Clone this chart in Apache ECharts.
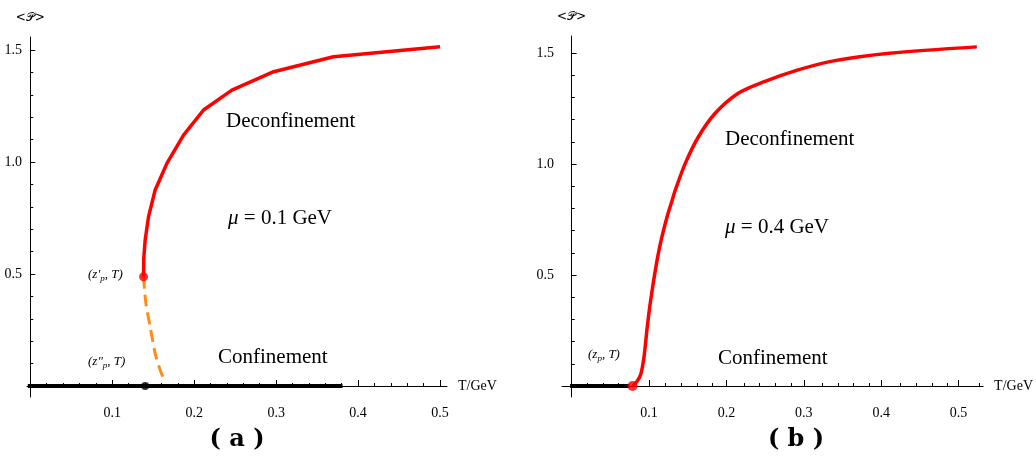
<!DOCTYPE html>
<html>
<head>
<meta charset="utf-8">
<script src="https://cdn.jsdelivr.net/npm/echarts@6.0.0/dist/echarts.min.js"></script>
<style>
html,body{margin:0;padding:0;background:#fff;}
#chart{width:1036px;height:461px;}
</style>
</head>
<body>
<div id="chart"></div>
<script>
// ---------- data ----------
// Panel (a): mu = 0.1 GeV
const aStableT   = [0.1382, 0.1385, 0.1402, 0.1443, 0.1524, 0.1667, 0.1870, 0.2114, 0.2460, 0.2970, 0.3700, 0.5000];
const aStableP   = [0.488, 0.570, 0.652, 0.756, 0.875, 0.994, 1.120, 1.232, 1.321, 1.403, 1.470, 1.515];
const aUnstableT = [0.1382, 0.1411, 0.1463, 0.1524, 0.1585, 0.1626];
const aUnstableP = [0.488, 0.369, 0.265, 0.146, 0.071, 0.034];
const aConfinedT = [-0.003, 0.381];
const aConfinedP = [0, 0];
const aUpperPoint = [0.1382, 0.488];   // (z'_p, T)
const aLowerPoint = [0.1402, 0];       // (z''_p, T)

// Panel (b): mu = 0.4 GeV
const bStableT   = [0.0787, 0.0840, 0.0894, 0.0936, 0.0978, 0.1022, 0.1086, 0.1149, 0.1234, 0.1298, 0.1340, 0.1469, 0.1639, 0.1852, 0.2149, 0.2490, 0.2916, 0.3384, 0.4107, 0.5236];
const bStableP   = [0, 0.018, 0.053, 0.132, 0.267, 0.387, 0.530, 0.645, 0.763, 0.835, 0.883, 1.003, 1.123, 1.228, 1.318, 1.371, 1.423, 1.465, 1.499, 1.528];
const bConfinedT = [-0.002, 0.075];
const bConfinedP = [0, 0];
const bPoint     = [0.0787, 0];        // (z_p, T)

// tick labels
const aXMajor = [0.1, 0.2, 0.3, 0.4, 0.5];
const aXMinor = [0.02,0.04,0.06,0.08,0.12,0.14,0.16,0.18,0.22,0.24,0.26,0.28,0.32,0.34,0.36,0.38,0.42,0.44,0.46,0.48];
const bXMajor = [0.1, 0.2, 0.3, 0.4, 0.5];
const bXMinor = [0.02,0.04,0.06,0.08,0.12,0.14,0.16,0.18,0.22,0.24,0.26,0.28,0.32,0.34,0.36,0.38,0.42,0.44,0.46,0.48,0.52];
const yMajor  = [0.5, 1.0, 1.5];
const yMinor  = [0.1,0.2,0.3,0.4,0.6,0.7,0.8,0.9,1.1,1.2,1.3,1.4];

const xName = 'T/GeV';
const yName = '<\u{1D4AB}>';

// ---------- helpers ----------
const zip = (xs, ys) => xs.map((x, i) => [x, ys[i]]);
const SERIF = "'Liberation Serif', 'DejaVu Serif', serif";

function mainX(grid, min, max, major) {
  return {
    gridIndex: grid, type: 'value', min: min, max: max,
    name: xName, nameLocation: 'end', nameGap: 11,
    nameTextStyle: {fontFamily: SERIF, fontSize: 14, color: '#000', verticalAlign: 'middle'},
    axisLine: {show: true, onZero: true, lineStyle: {color: '#000', width: 1}},
    axisTick: {show: true, inside: true, length: 6, customValues: major, lineStyle: {color: '#000', width: 1}},
    minorTick: {show: false},
    axisLabel: {show: true, customValues: major, margin: 9, fontFamily: SERIF, fontSize: 14, color: '#000',
                formatter: v => v.toFixed(1)},
    splitLine: {show: false}
  };
}
function minorX(grid, min, max, minor) {
  return {
    gridIndex: grid, type: 'value', min: min, max: max,
    axisLine: {show: false, onZero: true},
    axisTick: {show: true, inside: true, length: 3, customValues: minor, lineStyle: {color: '#000', width: 1}},
    axisLabel: {show: false},
    splitLine: {show: false}
  };
}
function mainY(grid, min, max, margin) {
  return {
    gridIndex: grid, type: 'value', min: min, max: max,
    name: yName, nameLocation: 'end', nameGap: 13,
    nameTextStyle: {fontFamily: "'DejaVu Serif', 'DejaVu Sans', serif", fontSize: 12, color: '#000', align: 'center'},
    axisLine: {show: true, onZero: true, lineStyle: {color: '#000', width: 1}},
    axisTick: {show: true, inside: true, length: 5, customValues: yMajor, lineStyle: {color: '#000', width: 1}},
    axisLabel: {show: true, customValues: yMajor, margin: margin, fontFamily: SERIF, fontSize: 14, color: '#000',
                formatter: v => v.toFixed(1)},
    splitLine: {show: false}
  };
}
function minorY(grid, min, max) {
  return {
    gridIndex: grid, type: 'value', min: min, max: max,
    axisLine: {show: false, onZero: true},
    axisTick: {show: true, inside: true, length: 3, customValues: yMinor, lineStyle: {color: '#000', width: 1}},
    axisLabel: {show: false},
    splitLine: {show: false}
  };
}

const aXr = [-0.004, 0.5085], aYr = [-0.049, 1.558];
const bXr = [-0.0124, 0.5317], bYr = [-0.0495, 1.577];

function txt(x, y, text, size, extra) {
  return Object.assign({
    type: 'text', x: x, y: y, silent: true,
    style: Object.assign({text: text, fontFamily: SERIF, fontSize: size, fill: '#000',
                          verticalAlign: 'middle', align: 'left'}, extra && extra.style || {})
  }, extra && extra.el || {});
}
const zRich = {
  it: {fontFamily: SERIF, fontStyle: 'italic', fontSize: 13, fill: '#000'},
  sub: {fontFamily: SERIF, fontStyle: 'italic', fontSize: 9, fill: '#000', padding: [7, 0, 0, 0]}
};
const muRich = {
  i: {fontFamily: SERIF, fontStyle: 'italic', fontSize: 21, fill: '#000'},
  n: {fontFamily: SERIF, fontSize: 21, fill: '#000'}
};

const option = {
  animation: false,
  backgroundColor: '#fff',
  grid: [
    {left: 27, top: 37, width: 420, height: 360},
    {left: 27, top: 37, width: 420, height: 360},
    {left: 562, top: 36, width: 426, height: 361},
    {left: 562, top: 36, width: 426, height: 361}
  ],
  xAxis: [
    mainX(0, aXr[0], aXr[1], aXMajor),
    minorX(1, aXr[0], aXr[1], aXMinor),
    mainX(2, bXr[0], bXr[1], bXMajor),
    minorX(3, bXr[0], bXr[1], bXMinor)
  ],
  yAxis: [
    mainY(0, aYr[0], aYr[1], 5),
    minorY(1, aYr[0], aYr[1]),
    mainY(2, bYr[0], bYr[1], 8),
    minorY(3, bYr[0], bYr[1])
  ],
  series: [
    {type: 'line', xAxisIndex: 0, yAxisIndex: 0, data: zip(aConfinedT, aConfinedP), symbol: 'none',
     lineStyle: {color: '#000', width: 4}, z: 3},
    {type: 'line', xAxisIndex: 0, yAxisIndex: 0, data: zip(aUnstableT, aUnstableP), symbol: 'none', smooth: 0.3,
     lineStyle: {color: '#ff8c1a', width: 3, type: [12, 6]}, z: 4},
    {type: 'line', xAxisIndex: 0, yAxisIndex: 0, data: zip(aStableT, aStableP), symbol: 'none',
     lineStyle: {color: '#ff0000', width: 3.5}, z: 5},
    {type: 'scatter', xAxisIndex: 0, yAxisIndex: 0, data: [aUpperPoint], symbolSize: 9,
     itemStyle: {color: '#ff0000'}, z: 6},
    {type: 'scatter', xAxisIndex: 0, yAxisIndex: 0, data: [aLowerPoint], symbolSize: 8,
     itemStyle: {color: '#000'}, z: 6},

    {type: 'line', xAxisIndex: 2, yAxisIndex: 2, data: zip(bConfinedT, bConfinedP), symbol: 'none',
     lineStyle: {color: '#000', width: 4}, z: 3},
    {type: 'line', xAxisIndex: 2, yAxisIndex: 2, data: zip(bStableT, bStableP), symbol: 'none', smooth: 0.3,
     lineStyle: {color: '#ff0000', width: 3.5}, z: 5},
    {type: 'scatter', xAxisIndex: 2, yAxisIndex: 2, data: [bPoint], symbolSize: 10,
     itemStyle: {color: '#ff0000'}, z: 6}
  ],
  graphic: [
    txt(226, 121, 'Deconfinement', 21),
    txt(228, 218, '{i|\u03BC}{n| = 0.1 GeV}', 21, {style: {rich: muRich}}),
    txt(218, 357, 'Confinement', 21),
    txt(88, 275, "{it|(z'}{sub|p}{it|, T)}", 13, {style: {rich: zRich}}),
    txt(88, 362, '{it|(z"}{sub|p}{it|, T)}', 13, {style: {rich: zRich}}),
    txt(237, 440, '( a )', 24, {style: {fontFamily: "'DejaVu Serif', serif", fontWeight: 'bold', align: 'center'}}),

    txt(725, 139, 'Deconfinement', 21),
    txt(725, 227, '{i|\u03BC}{n| = 0.4 GeV}', 21, {style: {rich: muRich}}),
    txt(718, 358, 'Confinement', 21),
    txt(588, 355, '{it|(z}{sub|p}{it|, T)}', 13, {style: {rich: zRich}}),
    txt(796, 440, '( b )', 24, {style: {fontFamily: "'DejaVu Serif', serif", fontWeight: 'bold', align: 'center'}})
  ]
};

const chart = echarts.init(document.getElementById('chart'), null, {renderer: 'canvas'});
chart.setOption(option);
</script>
</body>
</html>
